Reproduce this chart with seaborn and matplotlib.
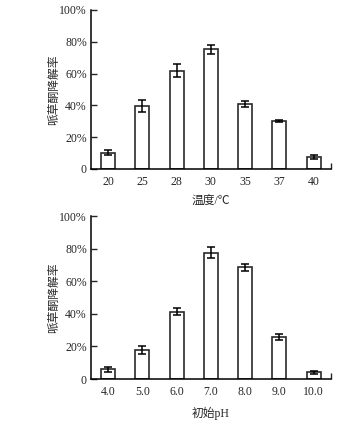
import matplotlib
matplotlib.use('Agg')
import matplotlib.pyplot as plt
import seaborn as sns
import pandas as pd

# Dados (taxa de degradação, %)
temperaturas = ['20', '25', '28', '30', '35', '37', '40']
taxa_temp = [10.1, 39.8, 61.9, 75.2, 40.8, 30.3, 7.6]
erro_temp = [1.6, 3.7, 4.2, 3.0, 2.0, 0.6, 1.2]

ph_inicial = ['4.0', '5.0', '6.0', '7.0', '8.0', '9.0', '10.0']
taxa_ph = [6.1, 17.8, 41.4, 77.6, 68.6, 25.7, 4.1]
erro_ph = [1.5, 2.4, 2.3, 3.2, 2.2, 2.0, 0.8]

yticks = [0, 20, 40, 60, 80, 100]
ytick_labels = ['0', '20%', '40%', '60%', '80%', '100%']

sns.set_style('ticks')
plt.rcParams['font.family'] = ['Liberation Serif', 'Noto Sans CJK SC']
plt.rcParams['font.size'] = 8.5

fig = plt.figure(figsize=(3.58, 4.30), dpi=100)
ax1 = fig.add_axes([0.254, 0.607, 0.670, 0.370])
ax2 = fig.add_axes([0.254, 0.1186, 0.670, 0.379])

paineis = [
    (ax1, temperaturas, taxa_temp, erro_temp, '温度/℃', 5),
    (ax2, ph_inicial, taxa_ph, erro_ph, '初始pH', 6),
]

for ax, cats, vals, errs, xlab, pad in paineis:
    df = pd.DataFrame({'x': cats, 'y': vals})
    sns.barplot(data=df, x='x', y='y', ax=ax, color='white', edgecolor='#2a2a2a',
                linewidth=1.2, width=0.41, errorbar=None)
    ax.errorbar(range(len(cats)), vals, yerr=errs, fmt='none', ecolor='black',
                elinewidth=1.1, capsize=3, capthick=1.1)
    ax.set_xlim(-0.5, 6.5)
    ax.set_ylim(0, 100)
    ax.set_yticks(yticks)
    ax.set_yticklabels(ytick_labels)
    ax.set_xticks([6.5], minor=True)
    ax.tick_params(axis='y', direction='in', length=4.5, width=1.0, pad=3, labelsize=8.5)
    ax.tick_params(axis='x', which='major', length=0, pad=5, labelsize=8.5)
    ax.tick_params(axis='x', which='minor', direction='in', length=4.5, width=1.0)
    sns.despine(ax=ax)
    for s in ['left', 'bottom']:
        ax.spines[s].set_linewidth(1.1)
        ax.spines[s].set_color('black')
    ax.set_xlabel(xlab, fontsize=8.5, labelpad=pad)
    ax.set_ylabel('哌草酮降解率', fontsize=8.5)
    ax.yaxis.set_label_coords(-0.13, 0.5)

fig.savefig('out.png', dpi=100)
plt.close(fig)
